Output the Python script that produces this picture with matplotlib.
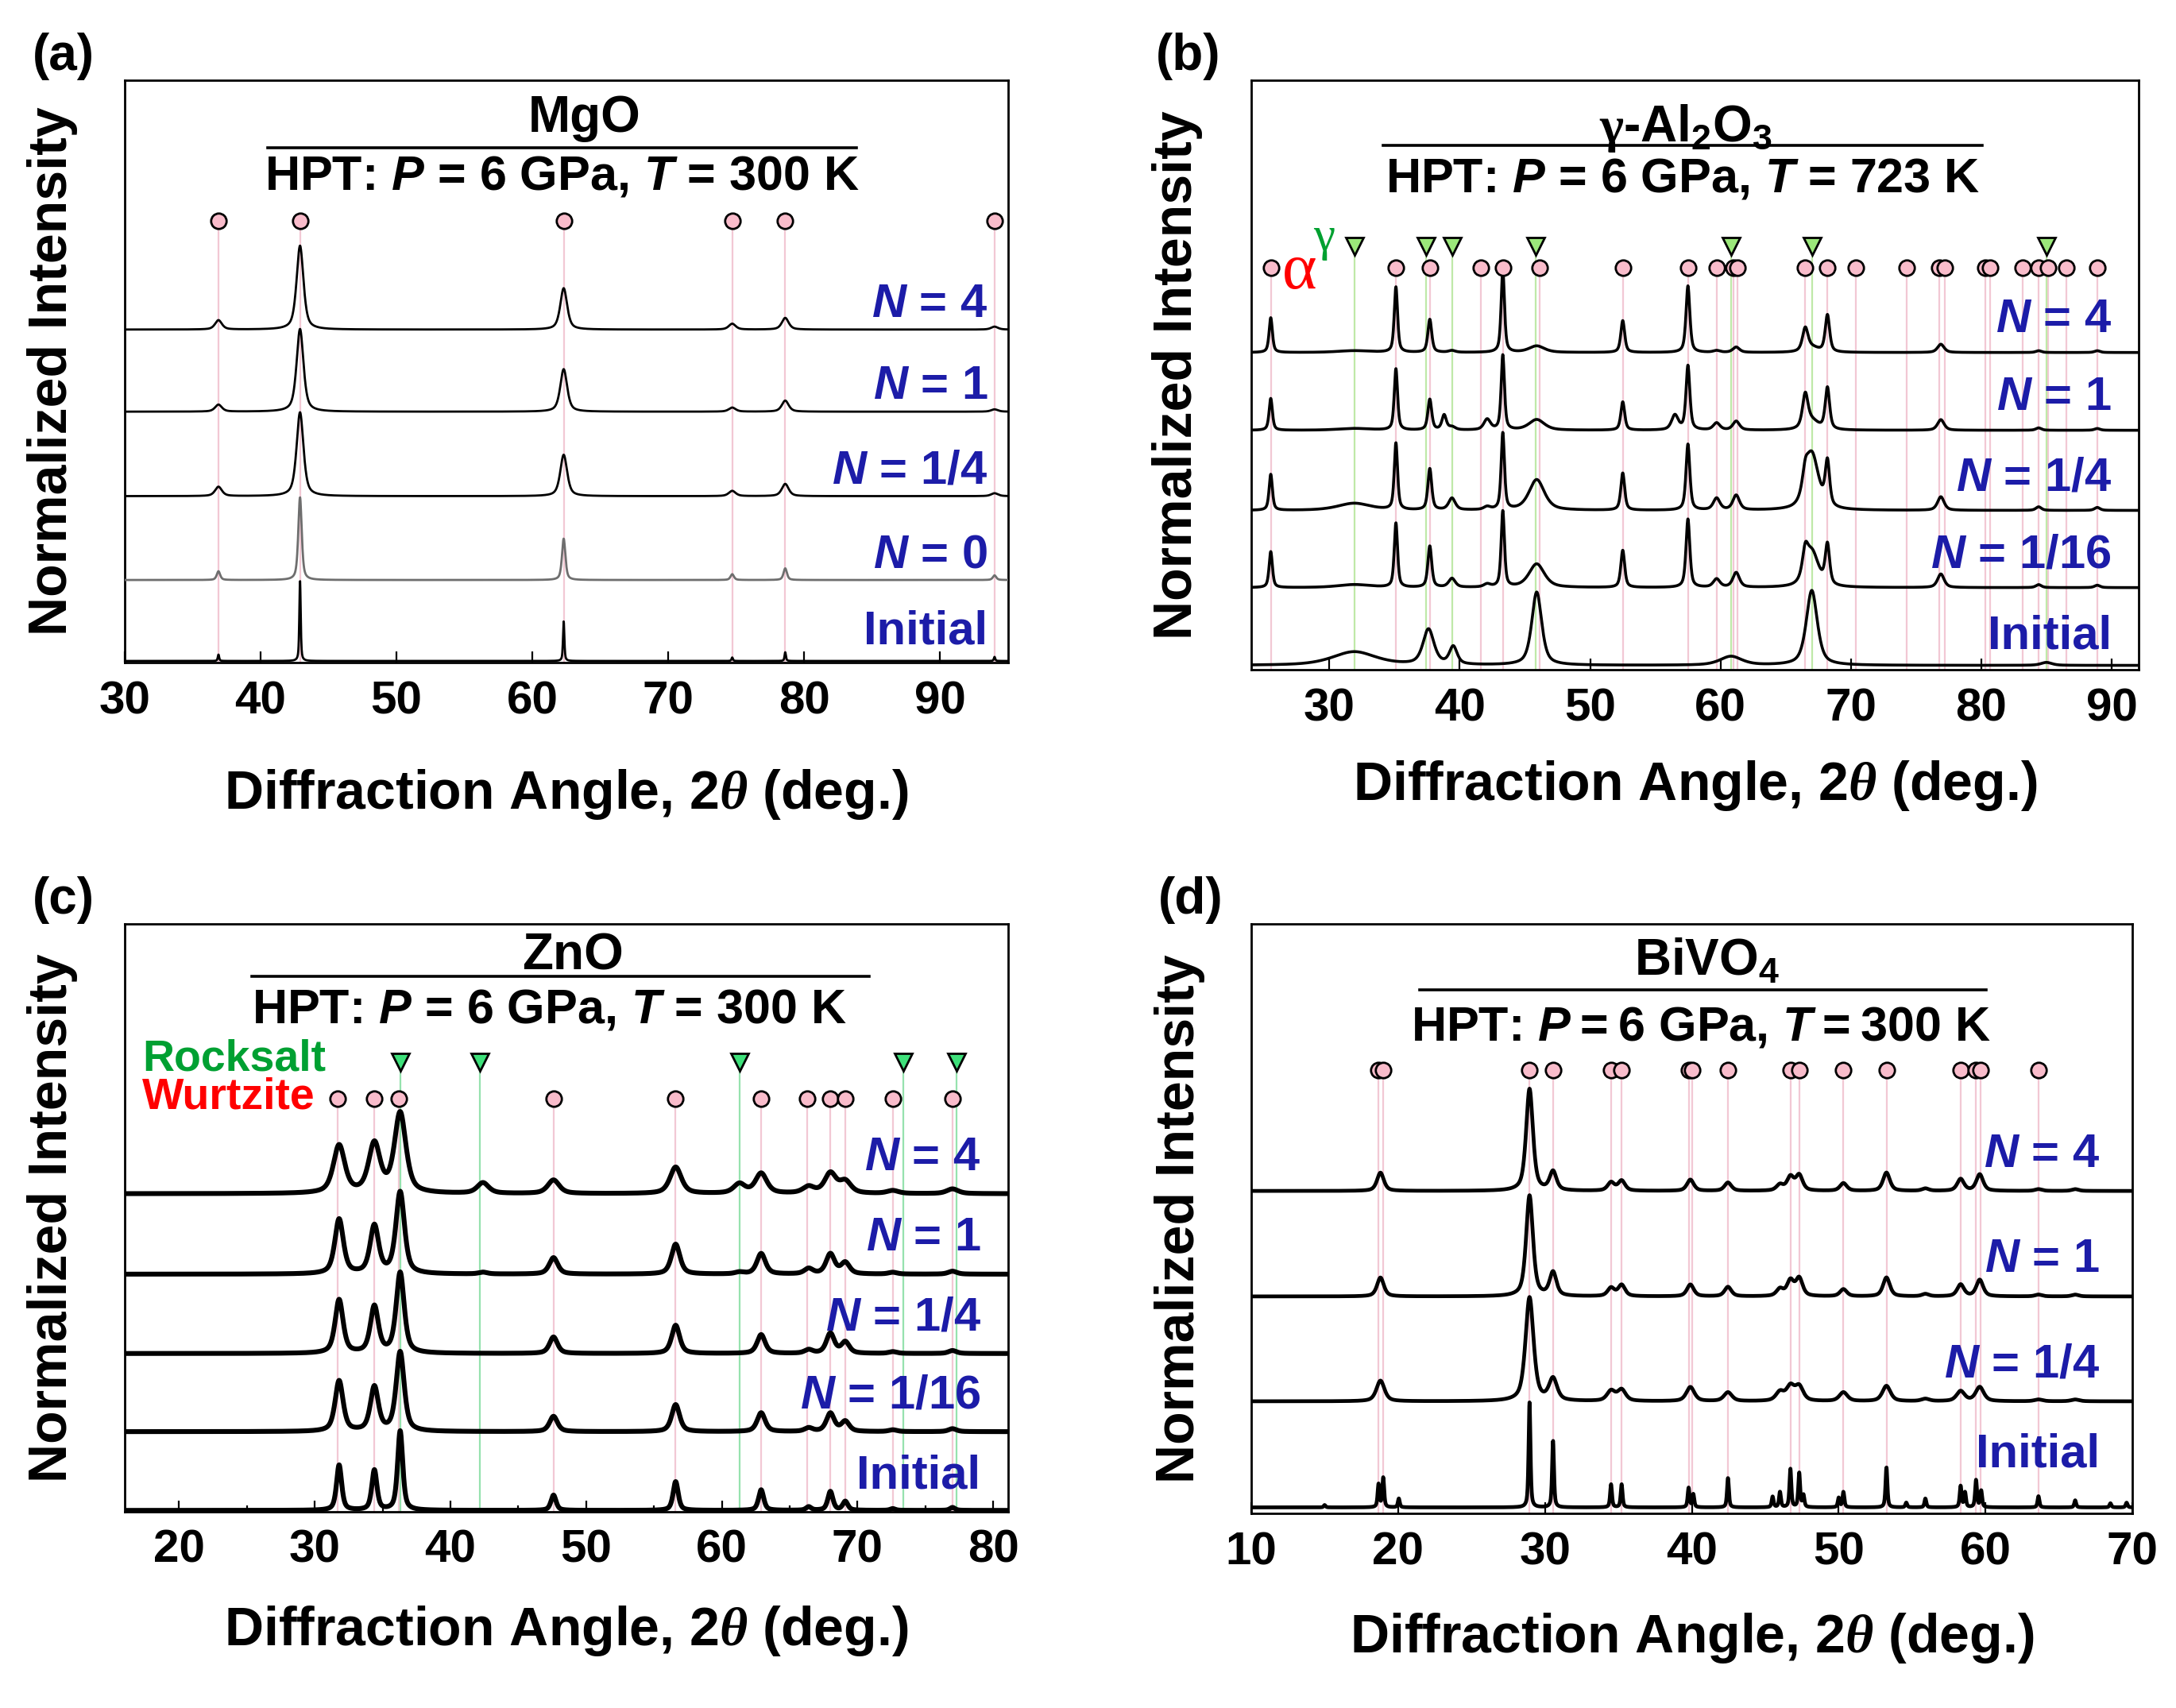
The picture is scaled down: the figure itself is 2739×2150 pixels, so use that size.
import numpy as np
import matplotlib.pyplot as plt

plt.rcParams["font.family"] = ["Liberation Sans", "DejaVu Sans"]
plt.rcParams["font.weight"] = "bold"
plt.rcParams["mathtext.fontset"] = "custom"
plt.rcParams["mathtext.rm"] = "Liberation Sans:bold"
plt.rcParams["mathtext.bf"] = "Liberation Sans:bold"
plt.rcParams["mathtext.it"] = "Liberation Sans:bold:italic"
plt.rcParams["mathtext.sf"] = "Liberation Serif:italic"
plt.rcParams["mathtext.cal"] = "Liberation Serif"

# ---------------- (a) MgO ----------------
mgo_labels = ["$N$ = 4", "$N$ = 1", "$N$ = 1/4", "$N$ = 0", "Initial"]
mgo_pos = [36.9, 42.9, 62.3, 74.7, 78.6, 94.0]
mgo_h_n4 = [1.6, 14.4, 7.1, 1.0, 2.0, 0.5]
mgo_h_n1 = [1.2, 14.2, 7.3, 0.7, 1.9, 0.4]
mgo_h_n14 = [1.6, 14.4, 7.1, 0.9, 2.1, 0.5]
mgo_h_n0 = [1.5, 14.2, 7.1, 1.0, 2.0, 0.8]
mgo_h_init = [1.1, 13.8, 6.8, 0.6, 1.5, 0.7]
mgo_fwhm = [0.6, 0.6, 0.6, 0.3, 0.12]
mgo_base = [57.2, 43.1, 28.6, 14.2, 0.3]
mgo_marks = [36.9, 42.9, 62.3, 74.7, 78.6, 94.0]

# ---------------- (b) gamma-Al2O3 ----------------
al_labels = ["$N$ = 4", "$N$ = 1", "$N$ = 1/4", "$N$ = 1/16", "Initial"]
al_pos = [25.5, 31.9, 35.1, 37.7, 38.8, 39.4, 42.1, 43.3, 45.9, 52.5,
          56.5, 57.5, 59.7, 61.2, 66.5, 67.0, 68.2, 76.9, 84.4, 88.9]
al_fwhm = [0.3, 3.0, 0.3, 0.35, 0.4, 0.6, 0.6, 0.3, 1.4, 0.35,
           0.6, 0.35, 0.6, 0.6, 0.5, 1.2, 0.4, 0.6, 0.5, 0.5]
al_h_n4 = [5.9, 0.3, 11.1, 5.6, 0.0, 0.3, 0.0, 14.1, 1.1, 5.4,
           0.0, 11.3, 0.3, 0.9, 3.8, 0.8, 6.3, 1.4, 0.3, 0.3]
al_h_n1 = [5.4, 0.3, 10.4, 5.2, 2.5, 0.5, 1.8, 12.7, 1.8, 4.8,
           2.5, 10.9, 1.2, 1.5, 5.5, 1.5, 7.1, 1.8, 0.4, 0.3]
al_h_n14 = [6.1, 1.2, 11.3, 7.0, 0.0, 2.0, 0.5, 13.0, 5.2, 6.3,
            0.0, 11.2, 2.0, 2.5, 3.0, 9.5, 7.5, 2.3, 0.6, 0.5]
al_h_n116 = [6.1, 0.5, 10.9, 7.0, 0.0, 1.5, 0.5, 12.9, 4.0, 6.3,
             0.0, 11.6, 1.4, 2.5, 4.0, 6.0, 6.8, 2.3, 0.5, 0.4]
al_init_pos = [31.9, 37.6, 39.5, 45.9, 60.8, 67.0, 85.0]
al_init_fwhm = [4.0, 1.0, 0.7, 0.9, 2.0, 1.0, 1.0]
al_init_h = [2.3, 6.0, 3.0, 12.4, 1.5, 12.7, 0.5]
al_base = [53.8, 40.6, 27.0, 13.9, 0.7]
al_alpha_marks = [25.5, 35.1, 37.7, 41.6, 43.3, 46.1, 52.5, 57.5, 59.7, 61.0, 61.3,
                  66.5, 68.2, 70.4, 74.3, 76.8, 77.2, 80.3, 80.7, 83.2, 84.4, 85.1,
                  86.5, 88.9]
al_gamma_marks = [31.9, 37.4, 39.4, 45.8, 60.8, 67.0, 85.0]

# ---------------- (c) ZnO ----------------
zno_labels = ["$N$ = 4", "$N$ = 1", "$N$ = 1/4", "$N$ = 1/16", "Initial"]
zno_pos = [31.8, 34.4, 36.3, 42.4, 47.6, 56.6, 61.3, 62.9, 66.4, 68.0, 69.1, 72.6, 77.0]
zno_h_n4 = [8.1, 8.3, 13.6, 1.8, 2.3, 4.5, 1.6, 3.4, 1.1, 3.4, 2.0, 0.5, 0.8]
zno_h_n1 = [9.3, 8.1, 13.9, 0.3, 2.8, 5.1, 0.3, 3.5, 0.9, 3.4, 1.9, 0.3, 0.5]
zno_h_n14 = [9.1, 7.9, 13.7, 0.0, 2.8, 4.8, 0.0, 3.2, 0.6, 3.4, 1.9, 0.3, 0.5]
zno_h_n116 = [8.6, 7.5, 13.5, 0.0, 2.6, 4.6, 0.0, 3.2, 0.6, 3.1, 1.7, 0.3, 0.5]
zno_h_init = [7.7, 6.8, 13.5, 0.0, 2.6, 4.9, 0.0, 3.5, 0.6, 3.2, 1.5, 0.3, 0.5]
zno_fwhm = [1.0, 0.75, 0.7, 0.7, 0.45]
zno_base = [54.1, 40.4, 26.9, 13.6, 0.2]
zno_wurtzite = [31.7, 34.4, 36.2, 47.6, 56.6, 62.9, 66.3, 68.0, 69.1, 72.6, 77.0]
zno_rocksalt = [36.3, 42.2, 61.3, 73.4, 77.3]

# ---------------- (d) BiVO4 ----------------
bvo_labels = ["$N$ = 4", "$N$ = 1", "$N$ = 1/4", "Initial"]
bvo_pos = [18.8, 28.95, 30.55, 34.5, 35.22, 39.9, 42.46, 46.0, 46.71, 47.31,
           50.32, 53.25, 55.9, 58.3, 59.6, 63.6, 66.1]
bvo_h_n4 = [3.1, 17.3, 3.2, 1.4, 1.7, 1.9, 1.4, 1.0, 2.3, 2.6,
            1.3, 3.1, 0.4, 2.0, 2.8, 0.3, 0.3]
bvo_h_n1 = [3.2, 17.1, 4.0, 1.4, 1.9, 2.0, 1.6, 1.2, 2.6, 3.0,
            1.2, 3.2, 0.4, 2.0, 2.8, 0.3, 0.3]
bvo_h_n14 = [3.5, 17.6, 3.7, 1.7, 1.9, 2.4, 1.5, 1.5, 2.4, 2.4,
             1.5, 2.6, 0.4, 1.7, 2.4, 0.3, 0.3]
bvo_fwhm = [0.55, 0.55, 0.65]
bvo_init_pos = [15.0, 18.67, 18.99, 20.05, 28.95, 30.55, 34.5, 35.22, 39.78, 40.1,
                42.46, 45.5, 46.0, 46.71, 47.31, 47.6, 50.0, 50.32, 53.25, 54.6,
                55.9, 58.3, 58.6, 59.35, 59.7, 63.6, 66.1, 68.5, 69.6]
bvo_init_h = [0.4, 3.9, 5.0, 1.5, 17.8, 11.3, 3.9, 3.9, 3.3, 2.2,
              5.0, 1.8, 2.6, 6.5, 5.8, 2.0, 1.6, 2.6, 6.8, 0.8,
              1.5, 3.6, 2.5, 4.6, 2.8, 1.9, 1.2, 0.7, 0.8]
bvo_base = [54.7, 36.8, 19.0, 1.0]
bvo_marks = [18.67, 18.99, 28.95, 30.55, 34.5, 35.22, 39.78, 40.0, 42.46, 46.71,
             47.31, 50.32, 53.25, 58.3, 59.35, 59.65, 63.6]

BLUE = "#1c1ca8"
PINK_FACE = "#f9bccb"
PINK_LINE = "#f2c8d4"


def profile(x, pos, heights, fwhm, eta=0.6):
    y = np.zeros_like(x)
    fw = np.broadcast_to(np.asarray(fwhm, dtype=float), (len(pos),))
    for c, h, w in zip(pos, heights, fw):
        if h <= 0:
            continue
        d = (x - c) / w
        y += h * (eta / (1 + 4 * d ** 2) + (1 - eta) * np.exp(-4 * np.log(2) * d ** 2))
    return y


def setup_axes(ax, xlim, ticks, minor=False):
    ax.set_yticks([])
    ax.set_xticks(ticks)
    if minor:
        mt = [t for t in np.arange(ticks[0] - 5, ticks[-1] + 6, 10) if xlim[0] < t < xlim[1]]
        ax.set_xticks(mt, minor=True)
        ax.tick_params(axis="x", which="minor", direction="in", length=3, width=0.8)
    ax.set_xlim(*xlim)
    ax.set_ylim(0, 100)
    ax.tick_params(axis="x", which="major", direction="in", length=5, width=0.8,
                   labelsize=21, pad=8)
    for s in ax.spines.values():
        s.set_linewidth(1.0)


def title_block(ax, name, cond, x_name, x_cond, line_x, y_name, y_line, y_cond):
    ax.text(x_name, y_name, name, transform=ax.transAxes, ha="center", va="center",
            fontsize=23, fontweight="bold")
    ax.plot(line_x, [y_line, y_line], transform=ax.transAxes, color="black", lw=1.3)
    ax.text(x_cond, y_cond, cond, transform=ax.transAxes, ha="center", va="center",
            fontsize=22, fontweight="bold")


def marker_row(ax, pos, y, face, line, marker="o", ms=7):
    ax.vlines(pos, 0, y, colors=line, lw=0.8, zorder=1)
    ax.plot(pos, [y] * len(pos), linestyle="none", marker=marker, ms=ms, mfc=face,
            mec="black", mew=1.0, zorder=4, clip_on=False)


def n_labels(ax, labels, ys, x):
    for lab, y in zip(labels, ys):
        ax.text(x, y, lab, transform=ax.get_yaxis_transform(), ha="right", va="center",
                fontsize=21.5, fontweight="bold", color=BLUE, zorder=5)


fig = plt.figure(figsize=(13.695, 10.75), dpi=200)

# ---- (a)
axa = fig.add_axes([0.0573, 0.612, 0.406, 0.341])
setup_axes(axa, (30, 95), range(30, 91, 10))
xa = np.linspace(30, 95, 4000)
marker_row(axa, mgo_marks, 75.8, PINK_FACE, PINK_LINE)
for i, h in enumerate([mgo_h_n4, mgo_h_n1, mgo_h_n14, mgo_h_n0, mgo_h_init]):
    col = "#6e6e6e" if i == 3 else "black"
    axa.plot(xa, mgo_base[i] + profile(xa, mgo_pos, h, mgo_fwhm[i]), color=col, lw=1.0, zorder=3)
n_labels(axa, mgo_labels, [b + 4.3 for b in mgo_base[:4]] + [5.3], 0.977)
title_block(axa, "MgO", "HPT: $P$ = 6 GPa, $T$ = 300 K", 0.52, 0.495, [0.162, 0.828],
            0.934, 0.884, 0.834)

# ---- (b)
axb = fig.add_axes([0.575, 0.608, 0.408, 0.345])
setup_axes(axb, (24, 92.1), range(30, 91, 10))
xb = np.linspace(24, 92.1, 4000)
marker_row(axb, al_alpha_marks, 68.2, PINK_FACE, PINK_LINE)
marker_row(axb, al_gamma_marks, 71.8, "#9be87a", "#bfe9a8", marker="v", ms=8)
for i, h in enumerate([al_h_n4, al_h_n1, al_h_n14, al_h_n116]):
    axb.plot(xb, al_base[i] + profile(xb, al_pos, h, al_fwhm), color="black", lw=1.3, zorder=3)
axb.plot(xb, al_base[4] + profile(xb, al_init_pos, al_init_h, al_init_fwhm),
         color="black", lw=1.3, zorder=3)
n_labels(axb, al_labels, [b + 5.5 for b in al_base[:4]] + [5.7], 0.969)
axb.text(27.7, 67.3, "α", color="#ff0000", fontsize=30, family="Liberation Serif",
         fontweight="normal", ha="center", va="center")
axb.text(29.6, 73.2, "γ", color="#00a030", fontsize=22, family="Liberation Serif",
         fontweight="normal", ha="center", va="center")
title_block(axb, r"$\mathcal{\gamma}$-Al$_2$O$_3$", "HPT: $P$ = 6 GPa, $T$ = 723 K",
            0.49, 0.486, [0.149, 0.823], 0.918, 0.889, 0.832)

# ---- (c)
axc = fig.add_axes([0.0573, 0.115, 0.406, 0.344])
setup_axes(axc, (16, 81.1), range(20, 81, 10), minor=True)
xc = np.linspace(16, 81.1, 4000)
marker_row(axc, zno_wurtzite, 70.3, PINK_FACE, PINK_LINE)
marker_row(axc, zno_rocksalt, 76.5, "#3ee07a", "#96e2ae", marker="v", ms=8)
for i, h in enumerate([zno_h_n4, zno_h_n1, zno_h_n14, zno_h_n116, zno_h_init]):
    axc.plot(xc, zno_base[i] + profile(xc, zno_pos, h, zno_fwhm[i]), color="black", lw=2.2, zorder=3)
n_labels(axc, zno_labels, [b + 6.1 for b in zno_base[:4]] + [6.0], 0.969)
axc.text(0.02, 76.9, "Rocksalt", transform=axc.get_yaxis_transform(), color="#00a032",
         fontsize=20, fontweight="bold", ha="left", va="center")
axc.text(0.02, 70.5, "Wurtzite", transform=axc.get_yaxis_transform(), color="#ff0000",
         fontsize=20, fontweight="bold", ha="left", va="center")
title_block(axc, "ZnO", "HPT: $P$ = 6 GPa, $T$ = 300 K", 0.507, 0.481, [0.144, 0.843],
            0.946, 0.911, 0.853)

# ---- (d)
axd = fig.add_axes([0.575, 0.114, 0.405, 0.345])
setup_axes(axd, (10, 70), range(10, 71, 10))
xd = np.linspace(10, 70, 4000)
marker_row(axd, bvo_marks, 75.2, PINK_FACE, PINK_LINE)
for i, h in enumerate([bvo_h_n4, bvo_h_n1, bvo_h_n14]):
    axd.plot(xd, bvo_base[i] + profile(xd, bvo_pos, h, bvo_fwhm[i]), color="black", lw=1.7, zorder=3)
axd.plot(xd, bvo_base[3] + profile(xd, bvo_init_pos, bvo_init_h, 0.15), color="black", lw=1.7, zorder=3)
n_labels(axd, bvo_labels, [b + 6.2 for b in bvo_base[:3]] + [10.0], 0.963)
title_block(axd, "BiVO$_4$", "HPT: $P$\u2009=\u20096 GPa, $T$\u2009=\u2009300 K",
            0.517, 0.51, [0.191, 0.834], 0.937, 0.888, 0.824)

# shared labels
for ax, lab, ylx in [(axa, "(a)", 0.024), (axb, "(b)", 0.541), (axc, "(c)", 0.024), (axd, "(d)", 0.542)]:
    bb = ax.get_position()
    fig.text(ylx, (bb.y0 + bb.y1) / 2, "Normalized Intensity", rotation=90, ha="center",
             va="center", fontsize=24.5, fontweight="bold")
    fig.text(ylx + 0.005, bb.y1 + 0.014, lab, ha="center", va="center", fontsize=23,
             fontweight="bold")

for ax, yl in [(axa, 0.535), (axb, 0.540), (axc, 0.045), (axd, 0.041)]:
    bb = ax.get_position()
    fig.text((bb.x0 + bb.x1) / 2, yl, r"Diffraction Angle, 2$\mathsf{\theta}$ (deg.)",
             ha="center", va="center", fontsize=24.5, fontweight="bold")

fig.savefig("out.png", dpi=200, facecolor="white")
